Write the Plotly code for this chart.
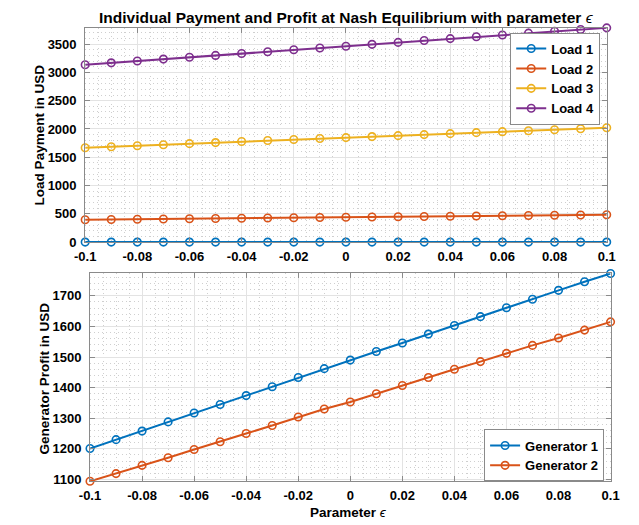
import plotly.graph_objects as go

# ---------------- data ----------------
epsilon = [-0.1, -0.09, -0.08, -0.07, -0.06, -0.05, -0.04, -0.03, -0.02, -0.01, 0.0,
           0.01, 0.02, 0.03, 0.04, 0.05, 0.06, 0.07, 0.08, 0.09, 0.1]

load1 = [0, 0, 0, 0, 0, 0, 0, 0, 0, 0, 0, 0, 0, 0, 0, 0, 0, 0, 0, 0, 0]
load2 = [395, 399, 404, 408, 413, 417, 421, 426, 430, 435, 439,
         443, 448, 452, 457, 461, 465, 470, 474, 479, 483]
load3 = [1667, 1685, 1704, 1722, 1740, 1759, 1777, 1795, 1813, 1830, 1847,
         1865, 1882, 1900, 1917, 1935, 1952, 1969, 1987, 2004, 2021]
load4 = [3136, 3169, 3202, 3235, 3268, 3300, 3333, 3366, 3399, 3430, 3462,
         3496, 3530, 3563, 3597, 3630, 3662, 3694, 3727, 3758, 3787]

gen1 = [1201, 1230, 1258, 1288, 1317, 1345, 1374, 1403, 1433, 1462, 1490,
        1518, 1546, 1575, 1603, 1632, 1661, 1689, 1718, 1746, 1773]
gen2 = [1094, 1119, 1146, 1171, 1198, 1223, 1250, 1276, 1304, 1330, 1353,
        1380, 1407, 1433, 1460, 1485, 1512, 1538, 1562, 1588, 1615]

load_names = ["Load 1", "Load 2", "Load 3", "Load 4"]
gen_names = ["Generator 1", "Generator 2"]

x_tick_vals = [-0.1, -0.08, -0.06, -0.04, -0.02, 0, 0.02, 0.04, 0.06, 0.08, 0.1]
x_tick_labels = ["-0.1", "-0.08", "-0.06", "-0.04", "-0.02", "0",
                 "0.02", "0.04", "0.06", "0.08", "0.1"]
top_y_ticks = [0, 500, 1000, 1500, 2000, 2500, 3000, 3500]
bot_y_ticks = [1100, 1200, 1300, 1400, 1500, 1600, 1700]

colors = ["#0072BD", "#D95319", "#EDB120", "#7E2F8E"]

W, H = 639, 525
FONT = "Liberation Sans, Arial, Helvetica, sans-serif"

fig = go.Figure()

for name, ys, c in zip(load_names, [load1, load2, load3, load4], colors):
    fig.add_trace(go.Scatter(
        x=epsilon, y=ys, name=name, mode="lines+markers",
        line=dict(color=c, width=2),
        marker=dict(symbol="circle-open", size=7.5, color=c, line=dict(width=1.6, color=c)),
        xaxis="x", yaxis="y", legend="legend", cliponaxis=False))

for name, ys, c in zip(gen_names, [gen1, gen2], colors[:2]):
    fig.add_trace(go.Scatter(
        x=epsilon, y=ys, name=name, mode="lines+markers",
        line=dict(color=c, width=2),
        marker=dict(symbol="circle-open", size=7.5, color=c, line=dict(width=1.6, color=c)),
        xaxis="x2", yaxis="y2", legend="legend2", cliponaxis=False))

# plot-area rectangles (pixels)
top_l, top_r, top_t, top_b = 68.3, 606.7, 20.0, 237.7
bot_l, bot_r, bot_t, bot_b = 73.3, 610.7, 269.3, 480.7

def px_x(v):
    return v / W

def px_y(v):
    return 1 - v / H

axis_line = "#8a8a8a"
grid_major = "#e3e3e3"
grid_minor = "#cfcfcf"
minor_dash = "1px,3px"
tickfont = dict(family=FONT, size=13, color="#000000", weight="bold")

common_axis = dict(
    showline=True, linecolor=axis_line, linewidth=1, mirror="ticks",
    ticks="inside", ticklen=5, tickcolor=axis_line, tickwidth=1,
    showgrid=True, gridcolor=grid_major, gridwidth=1,
    zeroline=False, tickfont=tickfont,
)

xaxis_common = dict(common_axis, range=[-0.1, 0.1], tickmode="array",
                    tickvals=x_tick_vals, ticktext=x_tick_labels, ticklabelstandoff=2,
                    minor=dict(dtick=0.005, tick0=0, showgrid=True, gridcolor=grid_minor,
                               griddash=minor_dash, gridwidth=1, ticks=""))

legend_font = dict(family=FONT, size=13, color="#000000", weight="bold")

fig.update_layout(
    width=W, height=H,
    margin=dict(l=0, r=0, t=0, b=0),
    paper_bgcolor="white", plot_bgcolor="white",
    font=dict(family=FONT, size=13, color="#000000"),
    xaxis=dict(xaxis_common, domain=[px_x(top_l), px_x(top_r)], anchor="y"),
    yaxis=dict(common_axis, domain=[px_y(top_b), px_y(top_t)], anchor="x",
               range=[0, 3790], tickmode="array", tickvals=top_y_ticks,
               ticktext=[str(v) for v in top_y_ticks], ticklabelstandoff=5,
               minor=dict(dtick=100, tick0=0, showgrid=True, gridcolor=grid_minor,
                          griddash=minor_dash, gridwidth=1, ticks="")),
    xaxis2=dict(xaxis_common, domain=[px_x(bot_l), px_x(bot_r)], anchor="y2"),
    yaxis2=dict(common_axis, domain=[px_y(bot_b), px_y(bot_t)], anchor="x2",
                range=[1093.6, 1774], tickmode="array", tickvals=bot_y_ticks,
                ticktext=[str(v) for v in bot_y_ticks], ticklabelstandoff=5,
                minor=dict(dtick=20, tick0=0, showgrid=True, gridcolor=grid_minor,
                           griddash=minor_dash, gridwidth=1, ticks="")),
    legend=dict(x=px_x(600), y=px_y(25), xanchor="right", yanchor="top",
                bgcolor="white", bordercolor="#8a8a8a", borderwidth=1,
                font=legend_font, tracegroupgap=0, itemwidth=30),
    legend2=dict(x=px_x(604), y=px_y(428), xanchor="right", yanchor="top",
                 bgcolor="white", bordercolor="#8a8a8a", borderwidth=1,
                 font=legend_font, tracegroupgap=0, itemwidth=30),
    showlegend=True,
)

annotations = [
    dict(text="<b>Individual Payment and Profit at Nash Equilibrium with parameter</b> <i>ϵ</i>",
         x=px_x(338), y=px_y(10), xref="paper", yref="paper",
         showarrow=False, xanchor="center", yanchor="middle",
         font=dict(family=FONT, size=15.5, color="#000000")),
    dict(text="<b>Load Payment in USD</b>",
         x=px_x(21), y=px_y(129), xref="paper", yref="paper", textangle=-90,
         showarrow=False, xanchor="center", yanchor="middle",
         font=dict(family=FONT, size=13.5, color="#000000")),
    dict(text="<b>Generator Profit in USD</b>",
         x=px_x(26), y=px_y(376), xref="paper", yref="paper", textangle=-90,
         showarrow=False, xanchor="center", yanchor="middle",
         font=dict(family=FONT, size=13.5, color="#000000")),
    dict(text="<b>Parameter</b> <i>ϵ</i>",
         x=px_x(340), y=px_y(512), xref="paper", yref="paper",
         showarrow=False, xanchor="center", yanchor="middle",
         font=dict(family=FONT, size=13.5, color="#000000")),
]
fig.update_layout(annotations=annotations)

fig.write_html("out.html")
